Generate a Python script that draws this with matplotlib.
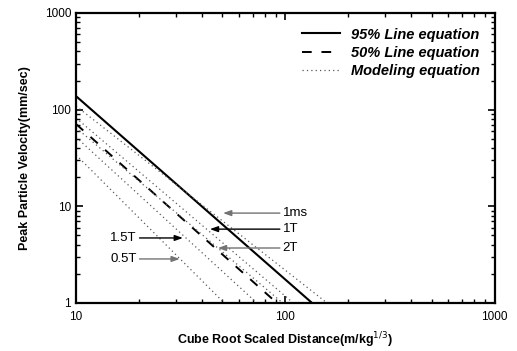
import matplotlib
matplotlib.use("Agg")
import matplotlib.pyplot as plt
from matplotlib.ticker import LogLocator, FormatStrFormatter, NullFormatter

plt.rcParams['font.family'] = ['Liberation Sans', 'DejaVu Sans']

# each attenuation line: value at SD=10 and the distance where PPV drops to 1 mm/s
line95_x = [10, 134]
line95_y = [138, 1]
line50_x = [10, 91]
line50_y = [71, 1]

model_names = ['1ms', '1T', '2T', '1.5T', '0.5T']
model_x = [[10, 158], [10, 109], [10, 97], [10, 73], [10, 51]]
model_y = [[109, 1], [82, 1], [65, 1], [52, 1], [34, 1]]

# label placement: (label, arrow tip x, arrow y, text x)
labels = ['1ms', '1T', '2T', '1.5T', '0.5T']
tip_x = [50.4, 43.6, 47.6, 32.4, 31.3]
tip_y = [8.5, 5.8, 3.7, 4.7, 2.85]
text_x = [97, 97, 97, 19.5, 19.5]
arrow_col = ['0.45', 'black', '0.45', 'black', '0.45']

fig = plt.figure(figsize=(5.17, 3.51), dpi=100)
ax = fig.add_axes([0.147, 0.137, 0.81, 0.826])

ax.plot(line95_x, line95_y, color='black', lw=1.5, label='95% Line equation')
ax.plot(line50_x, line50_y, color='black', lw=1.4, dashes=(5, 5), label='50% Line equation')
for i in range(len(model_names)):
    ax.plot(model_x[i], model_y[i], color='0.35', lw=0.9, ls=(0, (1, 2.5)),
            label='Modeling equation' if i == 0 else None)

for i in range(len(labels)):
    ha = 'left' if text_x[i] > tip_x[i] else 'right'
    ax.annotate(labels[i], xy=(tip_x[i], tip_y[i]), xytext=(text_x[i], tip_y[i]),
                ha=ha, va='center', fontsize=9.5,
                arrowprops=dict(arrowstyle='-|>,head_length=0.5,head_width=0.18',
                                color=arrow_col[i], lw=1.0, shrinkA=0, shrinkB=0))

ax.set_xscale('log')
ax.set_yscale('log')
ax.set_xlim(10, 1000)
ax.set_ylim(1, 1000)

ax.xaxis.set_major_formatter(FormatStrFormatter('%d'))
ax.yaxis.set_major_formatter(FormatStrFormatter('%d'))
ax.xaxis.set_minor_formatter(NullFormatter())
ax.yaxis.set_minor_formatter(NullFormatter())
ax.xaxis.set_minor_locator(LogLocator(base=10, subs=range(2, 10)))
ax.yaxis.set_minor_locator(LogLocator(base=10, subs=range(2, 10)))
ax.tick_params(which='both', direction='in', top=True, right=True, labelsize=8.5)
ax.tick_params(axis='x', pad=6)
ax.tick_params(which='major', length=5, width=1.2)
ax.tick_params(which='minor', length=3, width=1.0)
for s in ax.spines.values():
    s.set_linewidth(1.6)

ax.set_xlabel('Cube Root Scaled Distance(m/kg$^{1/3}$)', fontsize=9, fontweight='bold', labelpad=5)
ax.set_ylabel('Peak Particle Velocity(mm/sec)', fontsize=9, fontweight='bold', labelpad=10)

leg = ax.legend(loc='upper right', frameon=False, handlelength=2.6, labelspacing=0.3,
                borderaxespad=0.6, prop={'weight': 'bold', 'style': 'italic', 'size': 10.5})

plt.savefig('out.png', dpi=100)
